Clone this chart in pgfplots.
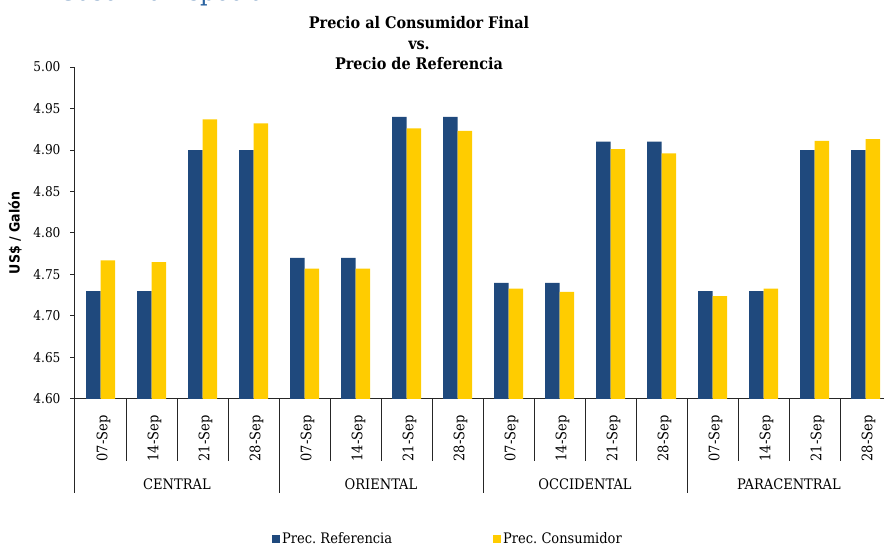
\documentclass[border=0pt]{standalone}
\usepackage{pgfplots}
\pgfplotsset{compat=1.18}
\usepackage{fontspec}
\setmainfont{DejaVu Serif Condensed}
\newfontfamily\sanscb{DejaVu Sans Condensed}
\definecolor{refblue}{RGB}{31,73,125}
\definecolor{consyel}{RGB}{255,204,0}
\definecolor{headblue}{RGB}{41,98,160}
\begin{document}
\begin{tikzpicture}[x=1pt,y=1pt]
\useasboundingbox (0,0) rectangle (884,546);
\node[anchor=base west, text=headblue, font=\fontsize{26.5}{26.5}\selectfont, inner sep=0pt] at (58,545) {Gasolina Especial};
\node[anchor=base, align=center, font=\fontsize{16}{20.5}\selectfont\bfseries, inner sep=0pt] at (419,476) {Precio al Consumidor Final\\vs.\\Precio de Referencia};
\begin{axis}[
  at={(75pt,147pt)}, anchor=south west,
  scale only axis, width=816pt, height=332pt,
  xmin=-0.5, xmax=15.5, ymin=4.6, ymax=5.0,
  ybar=0pt, bar width=14.5pt,
  clip mode=individual,
  axis x line*=bottom, axis y line*=left,
  axis line style={line width=1pt, black!85},
  ytick distance=0.05,
  yticklabel style={/pgf/number format/fixed, /pgf/number format/fixed zerofill, /pgf/number format/precision=2, font=\fontsize{13.5}{14}\selectfont, xshift=-6pt},
  /pgf/number format/assume math mode=true,
  tick align=outside, major tick length=5pt,
  major tick style={line width=1pt, black!85},
  xtick={0,...,15},
  xticklabels={07-Sep,14-Sep,21-Sep,28-Sep,07-Sep,14-Sep,21-Sep,28-Sep,07-Sep,14-Sep,21-Sep,28-Sep,07-Sep,14-Sep,21-Sep,28-Sep},
  major x tick style={draw=none},
  xticklabel style={rotate=90, anchor=east, font=\fontsize{14.5}{15}\selectfont, xshift=-8pt, yshift=-3pt},
  minor xtick={-0.5,0.5,...,15.5},
  minor tick length=62pt,
  minor x tick style={line width=1pt, black!85},
  ylabel={\sanscb\bfseries US\$ / Galón},
  ylabel style={font=\fontsize{14}{14}\selectfont, at={(axis description cs:-0.0735,0.5)}, anchor=center},
  legend columns=2,
  legend style={at={(axis description cs:0.2414,-0.422)}, anchor=west, draw=none, fill=none, inner sep=0pt, font=\fontsize{14.5}{15}\selectfont, /tikz/every even column/.append style={column sep=99pt}},
  legend image code/.code={\fill[#1] (0pt,-4pt) rectangle (8pt,4pt);},
]
\addplot[fill=refblue, draw=none] coordinates {
 (0,4.73) (1,4.73) (2,4.90) (3,4.90)
 (4,4.77) (5,4.77) (6,4.94) (7,4.94)
 (8,4.74) (9,4.74) (10,4.91) (11,4.91)
 (12,4.73) (13,4.73) (14,4.90) (15,4.90)};
\addplot[fill=consyel, draw=none] coordinates {
 (0,4.767) (1,4.765) (2,4.937) (3,4.932)
 (4,4.757) (5,4.757) (6,4.926) (7,4.923)
 (8,4.733) (9,4.729) (10,4.901) (11,4.896)
 (12,4.724) (13,4.733) (14,4.911) (15,4.913)};
\legend{Prec.\ Referencia, Prec.\ Consumidor}
\draw[line width=1pt, black!85] (axis cs:-0.5,4.6) -- ([yshift=-94pt]axis cs:-0.5,4.6);
\draw[line width=1pt, black!85] (axis cs:3.5,4.6) -- ([yshift=-94pt]axis cs:3.5,4.6);
\draw[line width=1pt, black!85] (axis cs:7.5,4.6) -- ([yshift=-94pt]axis cs:7.5,4.6);
\draw[line width=1pt, black!85] (axis cs:11.5,4.6) -- ([yshift=-94pt]axis cs:11.5,4.6);
\draw[line width=1pt, black!85] (axis cs:15.5,4.6) -- ([yshift=-94pt]axis cs:15.5,4.6);
\node[font=\fontsize{14.5}{15}\selectfont] at (axis cs:1.5,4.6) [yshift=-85pt] {CENTRAL};
\node[font=\fontsize{14.5}{15}\selectfont] at (axis cs:5.5,4.6) [yshift=-85pt] {ORIENTAL};
\node[font=\fontsize{14.5}{15}\selectfont] at (axis cs:9.5,4.6) [yshift=-85pt] {OCCIDENTAL};
\node[font=\fontsize{14.5}{15}\selectfont] at (axis cs:13.5,4.6) [yshift=-85pt] {PARACENTRAL};
\end{axis}
\end{tikzpicture}
\end{document}
